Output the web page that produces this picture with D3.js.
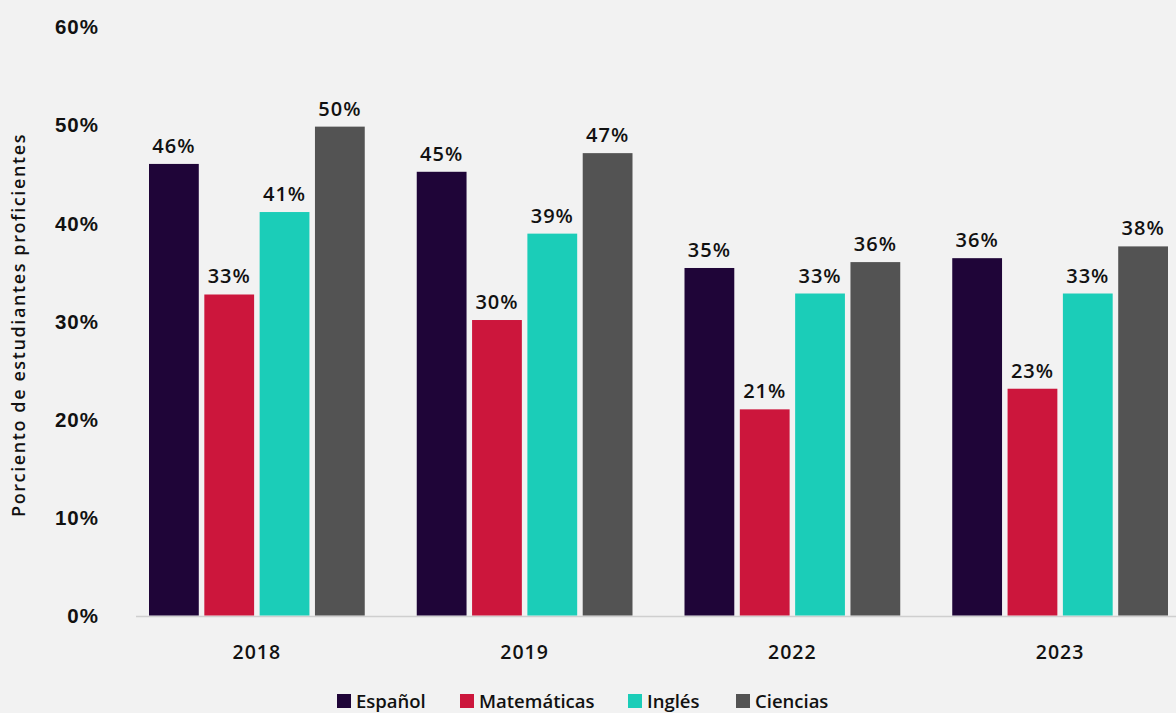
<!DOCTYPE html>
<html>
<head>
<meta charset="utf-8">
<script src="https://cdn.jsdelivr.net/npm/d3@7"></script>
<style>
  html, body { margin: 0; padding: 0; background: #f2f2f2; }
  svg { display: block; font-family: "Open Sans", Lato, sans-serif; font-weight: 600; letter-spacing: 1px; }
</style>
</head>
<body>
<div id="chart"></div>
<script>
var years = ["2018", "2019", "2022", "2023"];
var subjects = ["Español", "Matemáticas", "Inglés", "Ciencias"];
var colors = ["#1f0538", "#cc163c", "#1bcdb8", "#535353"];
// percent proficient, one array per subject (2018, 2019, 2022, 2023)
var espanol = [46.0, 45.2, 35.4, 36.4];
var matematicas = [32.7, 30.1, 21.0, 23.1];
var ingles = [41.1, 38.9, 32.8, 32.8];
var ciencias = [49.8, 47.1, 36.0, 37.6];
var yTicks = [0, 10, 20, 30, 40, 50, 60];

var series = [espanol, matematicas, ingles, ciencias];

var width = 1176, height = 713;
var margin = {top: 27, right: 0, bottom: 97, left: 123};

var svg = d3.select("#chart").append("svg")
  .attr("width", width)
  .attr("height", height);

svg.append("rect").attr("width", width).attr("height", height).attr("fill", "#f2f2f2");

var x0 = d3.scaleBand()
  .domain(years)
  .range([margin.left, 1194])
  .padding(0);

var x1 = d3.scaleBand()
  .domain(subjects)
  .range([26, x0.bandwidth() - 26])
  .paddingInner(0.1);

var y = d3.scaleLinear()
  .domain([0, 60])
  .range([height - margin.bottom - 0.5, margin.top - 0.5]);

// y axis labels
var yAxis = svg.append("g")
  .attr("transform", "translate(99,0)")
  .call(d3.axisLeft(y).tickValues(yTicks).tickSize(0).tickPadding(0).tickFormat(function(d) { return d + "%"; }));
yAxis.select(".domain").remove();
yAxis.selectAll("text")
  .attr("font-size", 20.5)
  .attr("fill", "#111")
  .attr("dy", "0.35em")
  .attr("font-family", null);

svg.append("text")
  .attr("transform", "translate(25," + (y(30) + 4) + ") rotate(-90)")
  .attr("text-anchor", "middle")
  .attr("font-size", 18)
  .attr("letter-spacing", 1.6)
  .attr("fill", "#111")
  .text("Porciento de estudiantes proficientes");

// baseline
svg.append("line")
  .attr("x1", 136).attr("x2", width)
  .attr("y1", y(0) + 1).attr("y2", y(0) + 1)
  .attr("stroke", "#cfcfcf")
  .attr("stroke-width", 1.5);

var groups = svg.append("g").selectAll("g")
  .data(years)
  .enter().append("g")
  .attr("transform", function(d) { return "translate(" + x0(d) + ",0)"; });

groups.selectAll("rect")
  .data(function(d, i) { return subjects.map(function(s, j) { return {s: s, v: series[j][i], c: colors[j]}; }); })
  .enter().append("rect")
  .attr("x", function(d) { return x1(d.s); })
  .attr("y", function(d) { return y(d.v); })
  .attr("width", x1.bandwidth())
  .attr("height", function(d) { return y(0) - y(d.v); })
  .attr("fill", function(d) { return d.c; });

groups.selectAll("text.val")
  .data(function(d, i) { return subjects.map(function(s, j) { return {s: s, v: series[j][i]}; }); })
  .enter().append("text")
  .attr("class", "val")
  .attr("x", function(d) { return x1(d.s) + x1.bandwidth() / 2; })
  .attr("y", function(d) { return y(d.v) - 11; })
  .attr("text-anchor", "middle")
  .attr("font-size", 20)
  .attr("fill", "#111")
  .text(function(d) { return Math.round(d.v) + "%"; });

// x axis labels
svg.append("g").selectAll("text")
  .data(years)
  .enter().append("text")
  .attr("x", function(d) { return x0(d) + x0.bandwidth() / 2; })
  .attr("y", 659)
  .attr("text-anchor", "middle")
  .attr("font-size", 19.5)
  .attr("fill", "#111")
  .text(function(d) { return d; });

// legend
var legendX = [337, 460, 628, 736];
var legend = svg.append("g").selectAll("g")
  .data(subjects)
  .enter().append("g")
  .attr("transform", function(d, i) { return "translate(" + legendX[i] + ",694)"; });
legend.append("rect")
  .attr("width", 14).attr("height", 14)
  .attr("fill", function(d, i) { return colors[i]; });
legend.append("text")
  .attr("x", 19).attr("y", 14)
  .attr("font-size", 18.5)
  .attr("letter-spacing", 0)
  .attr("fill", "#111")
  .text(function(d) { return d; });
</script>
</body>
</html>
